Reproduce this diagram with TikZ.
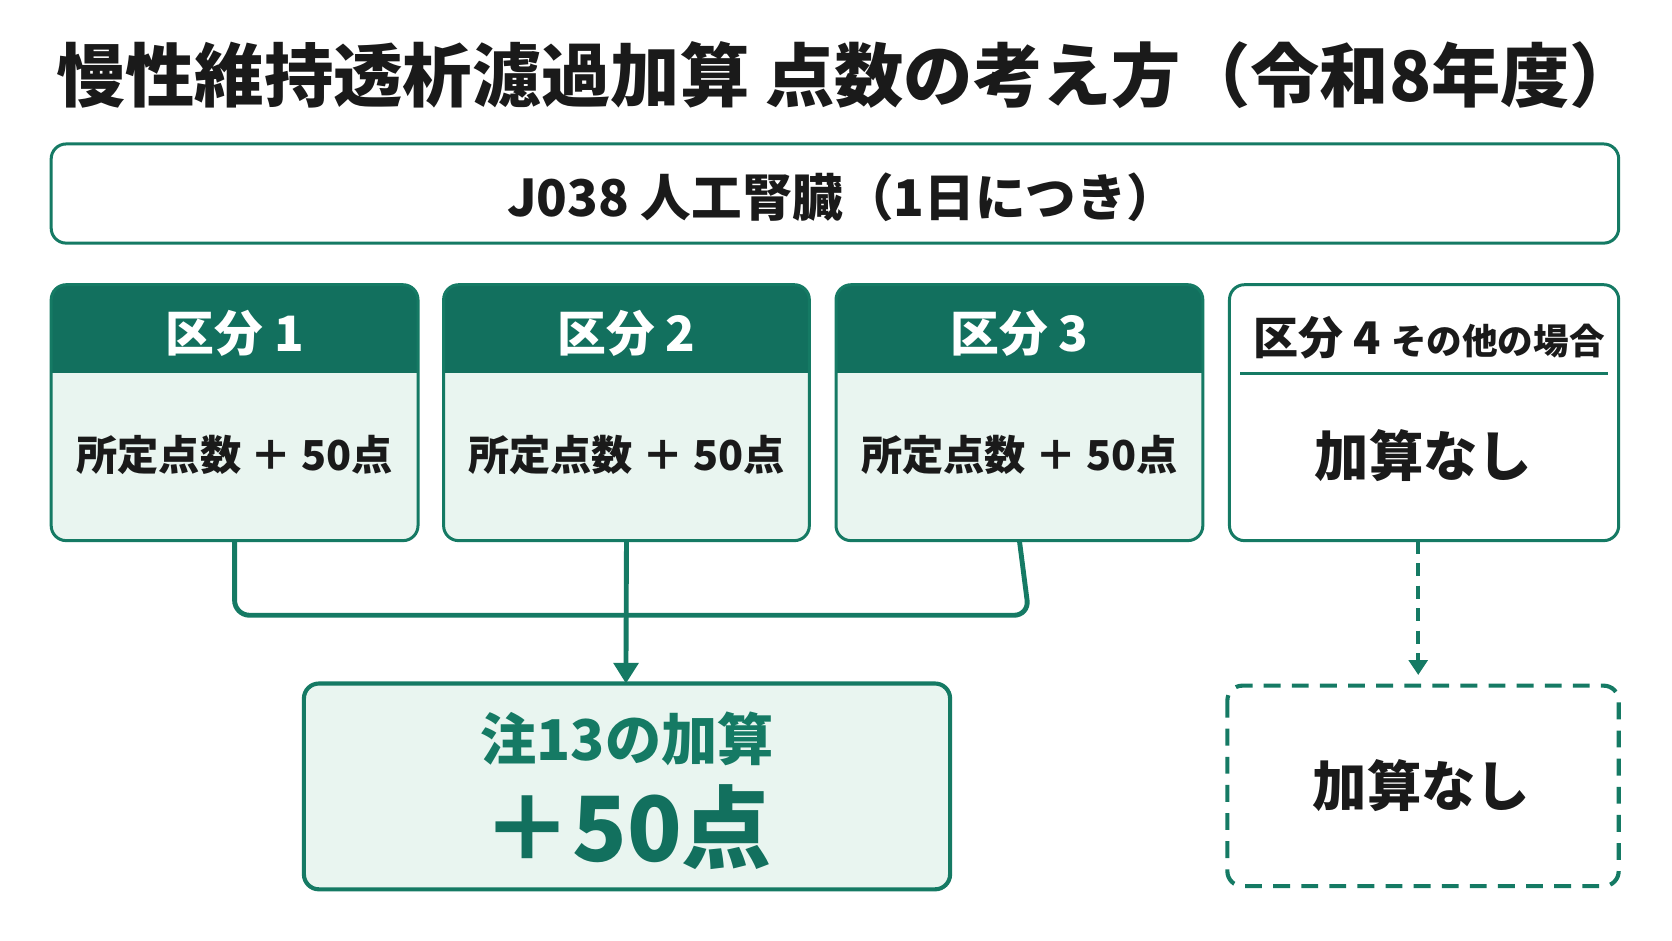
\documentclass[tikz,border=0pt]{standalone}
\usepackage{fontspec}
\setmainfont{Noto Sans CJK JP}
\usetikzlibrary{arrows.meta}
\definecolor{gline}{HTML}{157A64}
\definecolor{ghead}{HTML}{12705E}
\definecolor{glight}{HTML}{E9F5F0}
\definecolor{tdark}{HTML}{1A1A1A}
\begin{document}
\begin{tikzpicture}[x=0.02cm,y=-0.02cm,
  box/.style={draw=gline,line width=1.6pt,rounded corners=8pt},
  txt/.style={text=tdark,font=\bfseries},
  conn/.style={draw=gline,line width=2.6pt,rounded corners=8pt},
  tip/.style={-{Triangle[length=11pt,width=13pt]}}]
\useasboundingbox[fill=white] (0,0) rectangle (1568,882);
\node[txt,font=\bfseries\fontsize{37}{40}\selectfont] (title) at (795,70) {慢性維持透析濾過加算\ 点数の考え方（令和8年度）};
\draw[box] (48,135) rectangle (1518,228);
\node[txt,font=\bfseries\fontsize{27}{30}\selectfont] (j038) at (790,185) {J038 人工腎臓（1日につき）};
\foreach \i/\a/\b in {1/48/392,2/416/759,3/784/1128}{
  \fill[glight,rounded corners=8pt] (\a,267) rectangle (\b,507);
  \fill[ghead,rounded corners=8pt] (\a,267) rectangle (\b,340);
  \fill[ghead] (\a,320) rectangle (\b,350);
  \draw[box] (\a,267) rectangle (\b,507);
  \node[font=\bfseries\fontsize{26}{28}\selectfont,text=white] (h\i) at ({(\a+\b)/2},313) {区分\ \i};
  \node[txt,font=\bfseries\fontsize{22}{24}\selectfont] (b\i) at ({(\a+\b)/2},427) {所定点数 ＋ 50点};
  \coordinate (s\i) at ({(\a+\b)/2},507);
}
\draw[box] (1153,267) rectangle (1518,507);
\draw[gline,line width=1.6pt] (1163,350) -- (1508,350);
\node[txt] (h4) at (1340,317) {\fontsize{24}{26}\selectfont 区分 4 \fontsize{19}{22}\selectfont その他の場合};
\node[txt,font=\bfseries\fontsize{29}{32}\selectfont] (b4) at (1335,427) {加算なし};
\coordinate (s4) at (1330,507);
\draw[conn] (s1) -- (220,577) -- (965,577) -- (s3);
\draw[box,fill=glight,line width=2.2pt] (285,641) rectangle (891,834);
\coordinate (bt) at (587,641);
\draw[conn,tip] (s2) -- (bt);
\node[font=\bfseries\fontsize{30}{32}\selectfont,text=gline] (n13) at (588,693) {注13の加算};
\node[font=\bfseries\fontsize{48}{50}\selectfont,text=ghead] (p50) at (588,776) {＋50点};
\draw[box,dashed,dash pattern=on 9pt off 6pt,line width=2.2pt] (1151,643) rectangle (1518,831);
\coordinate (dt) at (1330,643);
\draw[gline,line width=2pt,dash pattern=on 7pt off 5pt,-{Triangle[length=8pt,width=10pt]}] (s4) -- (1330,633);
\node[txt,font=\bfseries\fontsize{29}{32}\selectfont] (b5) at (1333,737) {加算なし};
\end{tikzpicture}
\end{document}
